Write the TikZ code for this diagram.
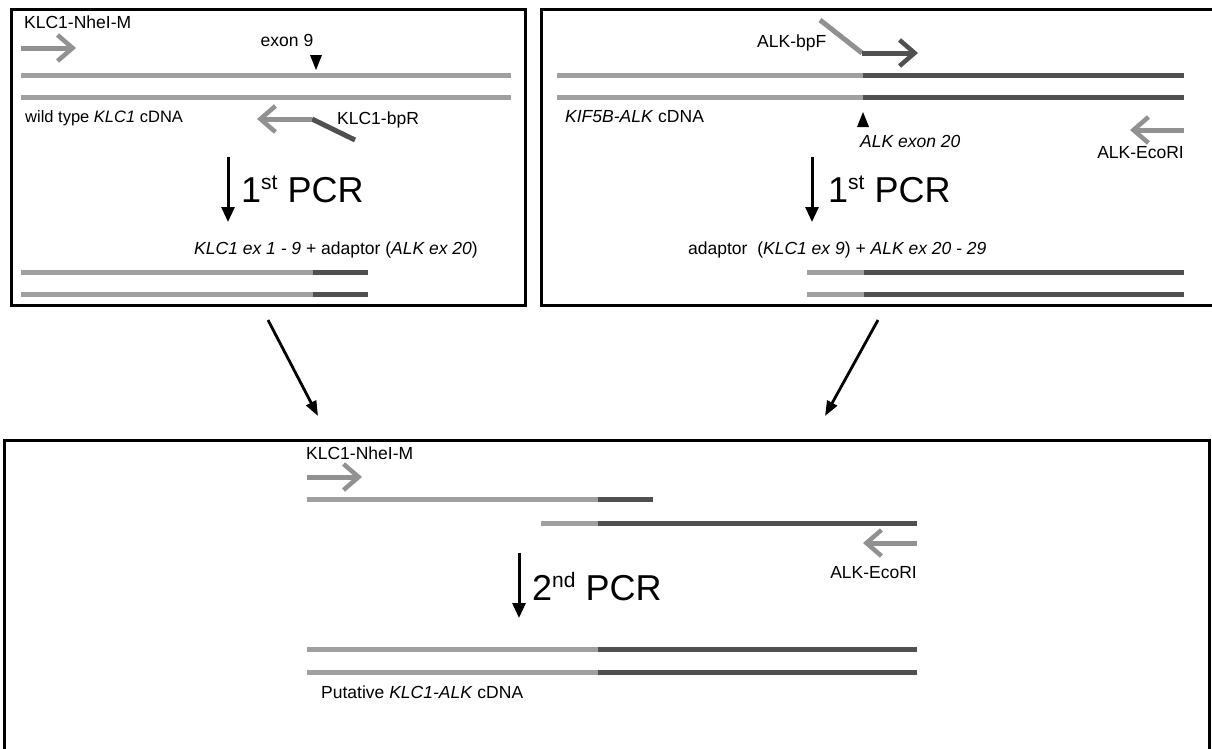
\documentclass[tikz,border=0pt]{standalone}
\usepackage{fontspec}
\setmainfont{Liberation Sans}
\usetikzlibrary{arrows.meta}
\definecolor{dnalight}{RGB}{160,160,160}
\definecolor{dnadark}{RGB}{80,80,80}
\definecolor{primergray}{RGB}{145,145,145}
\definecolor{primerdark}{RGB}{80,80,80}
\begin{document}
\begin{tikzpicture}[x=1pt,y=-1pt,
  boxnode/.style={draw=black,line width=3pt,rectangle,anchor=north west,inner sep=0pt,outer sep=0pt},
  lightdna/.style={draw=dnalight,line width=5pt},
  darkdna/.style={draw=dnadark,line width=5pt},
  primer/.style={draw=primergray,line width=5pt,-{Straight Barb[length=15pt,width=26pt,line width=4.5pt]}},
  primerd/.style={draw=primerdark,line width=5pt,-{Straight Barb[length=15pt,width=26pt,line width=4.5pt]}},
  linkd/.style={draw=primerdark,line width=5pt},
  linkl/.style={draw=primergray,line width=5pt},
  pcr/.style={draw=black,line width=3pt,-{Triangle[length=15pt,width=13pt]}},
  diag/.style={draw=black,line width=2.8pt,-{Triangle[length=15pt,width=11pt]}},
  lbl/.style={font=\fontsize{17.5}{20}\selectfont,inner sep=0pt},
  big/.style={font=\fontsize{36}{40}\selectfont,inner sep=0pt},
  tri/.style={fill=black}
]
\clip (0,0) rectangle (1212,748);
\useasboundingbox (0,0) rectangle (1212,748);
\newcommand{\sups}[1]{\raisebox{13pt}{\fontsize{21}{22}\selectfont #1}}

% ---------- boxes ----------
\node[boxnode,minimum width=514pt,minimum height=296pt] (boxA) at (11,9) {};
\node[boxnode,minimum width=680pt,minimum height=296pt] (boxB) at (541,9) {};
\node[boxnode,minimum width=1205pt,minimum height=330pt] (boxC) at (4,440) {};

% ---------- left box ----------
\node[lbl,anchor=west] (nheA) at (24,22) {KLC1-NheI-M};
\coordinate (nheAs) at (21,48); \coordinate (nheAe) at (76,48);
\draw[primer] (nheAs) -- (nheAe);
\coordinate (a1) at (21,75); \coordinate (a2) at (511,75);
\coordinate (a3) at (21,97); \coordinate (a4) at (511,97);
\draw[lightdna] (a1) -- (a2);
\draw[lightdna] (a3) -- (a4);
\node[lbl] (ex9) at (287,40) {exon 9};
\coordinate (ex9t) at (316,70);
\fill[tri] (310,55) -- (322,55) -- (ex9t) -- cycle;
\node[lbl,anchor=west,font=\fontsize{16.5}{20}\selectfont] (wt) at (25,118) {wild type \textit{KLC1} cDNA};
\coordinate (bpRs) at (355,140); \coordinate (bpRb) at (312,119); \coordinate (bpRe) at (257,119);
\draw[linkd] (bpRs) -- (bpRb);
\draw[primer] (bpRb) -- (bpRe);
\node[lbl,anchor=west] (bpR) at (337,120) {KLC1-bpR};
\coordinate (pcrAs) at (228,157); \coordinate (pcrAe) at (228,222);
\draw[pcr] (pcrAs) -- (pcrAe);
\node[big,anchor=west] (pcrA) at (241,189) {1\sups{st} PCR};
\node[lbl,anchor=east] (prodA) at (478,250) {\textit{KLC1 ex 1 - 9} + adaptor (\textit{ALK ex 20})};
\coordinate (p1) at (21,272); \coordinate (p2) at (313,272); \coordinate (p3) at (368,272);
\coordinate (p4) at (21,294); \coordinate (p5) at (313,294); \coordinate (p6) at (368,294);
\draw[lightdna] (p1) -- (p2); \draw[darkdna] (p2) -- (p3);
\draw[lightdna] (p4) -- (p5); \draw[darkdna] (p5) -- (p6);

% ---------- right box ----------
\node[lbl,anchor=west] (bpF) at (757,43) {ALK-bpF};
\coordinate (bpFs) at (820,20); \coordinate (bpFb) at (862,53); \coordinate (bpFe) at (918,53);
\draw[linkl] (bpFs) -- (bpFb);
\draw[primerd] (bpFb) -- (bpFe);
\coordinate (b1) at (557,75); \coordinate (b2) at (863,75); \coordinate (b3) at (1184,75);
\coordinate (b4) at (557,97); \coordinate (b5) at (863,97); \coordinate (b6) at (1184,97);
\draw[lightdna] (b1) -- (b2); \draw[darkdna] (b2) -- (b3);
\draw[lightdna] (b4) -- (b5); \draw[darkdna] (b5) -- (b6);
\node[lbl,anchor=west] (kif) at (565,117) {\textit{KIF5B-ALK} cDNA};
\coordinate (ex20t) at (863,112);
\fill[tri] (857,127) -- (869,127) -- (ex20t) -- cycle;
\node[lbl,anchor=west] (ex20) at (860,141) {\textit{ALK exon 20}};
\coordinate (ecoBs) at (1184,130); \coordinate (ecoBe) at (1130,130);
\draw[primer] (ecoBs) -- (ecoBe);
\node[lbl,anchor=east] (ecoB) at (1184,153) {ALK-EcoRI};
\coordinate (pcrBs) at (812,157); \coordinate (pcrBe) at (812,222);
\draw[pcr] (pcrBs) -- (pcrBe);
\node[big,anchor=west] (pcrB) at (828,189) {1\sups{st} PCR};
\node[lbl,anchor=west] (prodB) at (688,250) {adaptor\ \ (\textit{KLC1 ex 9}) + \textit{ALK ex 20 - 29}};
\coordinate (q1) at (807,272); \coordinate (q2) at (864,272); \coordinate (q3) at (1184,272);
\coordinate (q4) at (807,294); \coordinate (q5) at (864,294); \coordinate (q6) at (1184,294);
\draw[lightdna] (q1) -- (q2); \draw[darkdna] (q2) -- (q3);
\draw[lightdna] (q4) -- (q5); \draw[darkdna] (q5) -- (q6);

% ---------- connectors between boxes ----------
\coordinate (dAs) at (268,320); \coordinate (dAe) at (318,416);
\coordinate (dBs) at (878,320); \coordinate (dBe) at (825,416);
\draw[diag] (dAs) -- (dAe);
\draw[diag] (dBs) -- (dBe);

% ---------- bottom box ----------
\node[lbl,anchor=west] (nheC) at (306,453) {KLC1-NheI-M};
\coordinate (nheCs) at (307,477); \coordinate (nheCe) at (362,477);
\draw[primer] (nheCs) -- (nheCe);
\coordinate (c1) at (307,499); \coordinate (c2) at (598,499); \coordinate (c3) at (653,499);
\draw[lightdna] (c1) -- (c2); \draw[darkdna] (c2) -- (c3);
\coordinate (c4) at (541,523); \coordinate (c5) at (598,523); \coordinate (c6) at (917,523);
\draw[lightdna] (c4) -- (c5); \draw[darkdna] (c5) -- (c6);
\coordinate (ecoCs) at (917,543); \coordinate (ecoCe) at (863,543);
\draw[primer] (ecoCs) -- (ecoCe);
\node[lbl,anchor=east] (ecoC) at (917,573) {ALK-EcoRI};
\coordinate (pcrCs) at (519,553); \coordinate (pcrCe) at (519,618);
\draw[pcr] (pcrCs) -- (pcrCe);
\node[big,anchor=west] (pcrC) at (532,587) {2\sups{nd} PCR};
\coordinate (d1) at (307,649); \coordinate (d2) at (598,649); \coordinate (d3) at (917,649);
\coordinate (d4) at (307,672); \coordinate (d5) at (598,672); \coordinate (d6) at (917,672);
\draw[lightdna] (d1) -- (d2); \draw[darkdna] (d2) -- (d3);
\draw[lightdna] (d4) -- (d5); \draw[darkdna] (d5) -- (d6);
\node[lbl,anchor=west] (put) at (321,692) {Putative \textit{KLC1-ALK} cDNA};
\end{tikzpicture}
\end{document}
